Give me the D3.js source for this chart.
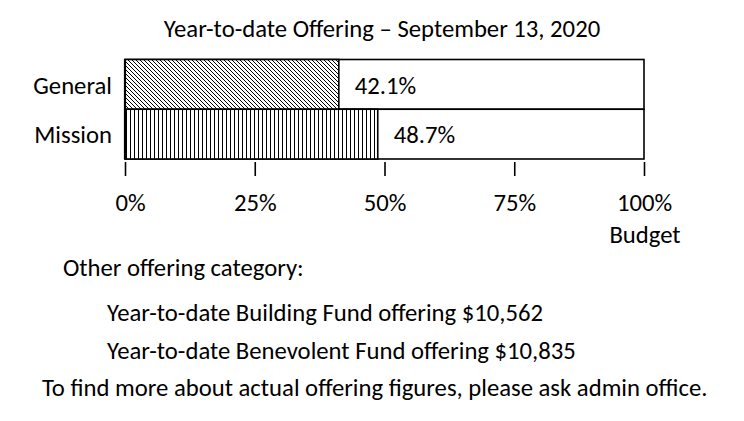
<!DOCTYPE html>
<html>
<head>
<meta charset="utf-8">
<script src="https://cdn.jsdelivr.net/npm/d3@7"></script>
<style>
  html, body { margin: 0; padding: 0; background: #fff; }
  svg { display: block; }
  text { font-family: Carlito, Lato, "Open Sans", sans-serif; fill: #000; }
</style>
</head>
<body>
<svg id="chart" width="744" height="421"></svg>
<script>
// ---- data ----
const chartTitle = "Year-to-date Offering \u2013 September 13, 2020";
const categories = ["General", "Mission"];
const values = [41.2, 48.7];               // bar lengths as drawn (% of budget)
const valueLabels = ["42.1%", "48.7%"];     // labels as printed
const tickValues = [0, 25, 50, 75, 100];
const tickLabels = ["0%", "25%", "50%", "75%", "100%"];
const axisTitle = "Budget";
const noteHeading = "Other offering category:";
const noteLines = [
  "Year-to-date Building Fund offering $10,562",
  "Year-to-date Benevolent Fund offering $10,835"
];
const footer = "To find more about actual offering figures, please ask admin office.";

// ---- layout ----
const svg = d3.select("#chart");
const x = d3.scaleLinear().domain([0, 100]).range([125, 644]);
const y = d3.scaleBand().domain(categories).range([59.5, 159]).padding(0);

// font size fitted so the footer line spans its measured width
const probe = svg.append("text").attr("font-size", 25).text(footer);
const fw = probe.node().getComputedTextLength();
probe.remove();
const fs = 25 * 666 / fw;

const defs = svg.append("defs");
const diag = defs.append("pattern").attr("id", "diag")
  .attr("patternUnits", "userSpaceOnUse").attr("width", 4).attr("height", 4);
diag.append("rect").attr("width", 4).attr("height", 4).attr("fill", "#fff");
diag.append("path").attr("d", "M-1,-1L5,5M3,-1L5,1M-1,3L1,5")
  .attr("stroke", "#000").attr("stroke-width", 1);
const vert = defs.append("pattern").attr("id", "vert")
  .attr("patternUnits", "userSpaceOnUse").attr("width", 4).attr("height", 4);
vert.append("rect").attr("width", 4).attr("height", 4).attr("fill", "#fff");
vert.append("line").attr("x1", 2.5).attr("x2", 2.5).attr("y1", 0).attr("y2", 4)
  .attr("stroke", "#000").attr("stroke-width", 1);
const patterns = ["url(#diag)", "url(#vert)"];

// title
svg.append("text").attr("x", 382).attr("y", 37).attr("text-anchor", "middle")
  .attr("font-size", fs).text(chartTitle);

// background (budget) bars
svg.selectAll("rect.bg").data(categories).join("rect").attr("class", "bg")
  .attr("x", x(0)).attr("y", d => y(d)).attr("width", x(100) - x(0))
  .attr("height", y.bandwidth()).attr("fill", "#fff")
  .attr("stroke", "#000").attr("stroke-width", 1.6);

// value bars
svg.selectAll("rect.val").data(values).join("rect").attr("class", "val")
  .attr("x", x(0)).attr("y", (d, i) => y(categories[i]))
  .attr("width", d => x(d) - x(0)).attr("height", y.bandwidth())
  .attr("fill", (d, i) => patterns[i])
  .attr("stroke", "#000").attr("stroke-width", 1.6);

// left edge
svg.append("line").attr("x1", x(0)).attr("x2", x(0))
  .attr("y1", y.range()[0]).attr("y2", y.range()[1])
  .attr("stroke", "#000").attr("stroke-width", 2.2);

// value labels
svg.selectAll("text.vl").data(values).join("text").attr("class", "vl")
  .attr("x", d => x(d) + 16).attr("y", (d, i) => y(categories[i]) + 34)
  .attr("font-size", fs).text((d, i) => valueLabels[i]);

// category labels
svg.selectAll("text.cat").data(categories).join("text").attr("class", "cat")
  .attr("x", 112).attr("y", d => y(d) + 34).attr("text-anchor", "end")
  .attr("font-size", fs).text(d => d);

// axis
const axis = d3.axisBottom(x).tickValues(tickValues)
  .tickFormat((d, i) => tickLabels[i]).tickSize(14).tickPadding(0);
const ag = svg.append("g").attr("transform", "translate(0,162)").call(axis);
ag.select(".domain").remove();
ag.selectAll(".tick line").attr("stroke", "#000").attr("stroke-width", 1.6);
ag.selectAll(".tick text").attr("y", 49).attr("dy", 0)
  .attr("dx", d => d === 0 ? 5 : 0)
  .attr("font-size", fs).attr("font-family", null).attr("fill", "#000");
ag.attr("font-family", null).attr("font-size", null);

svg.append("text").attr("x", x(100) + 1).attr("y", 243).attr("text-anchor", "middle")
  .attr("font-size", fs).text(axisTitle);

// notes
svg.append("text").attr("x", 63).attr("y", 276).attr("font-size", fs).text(noteHeading);
svg.selectAll("text.note").data(noteLines).join("text").attr("class", "note")
  .attr("x", 107).attr("y", (d, i) => 321 + i * 37.5)
  .attr("font-size", fs).text(d => d);
svg.append("text").attr("x", 42).attr("y", 396).attr("font-size", fs).text(footer);
</script>
</body>
</html>
